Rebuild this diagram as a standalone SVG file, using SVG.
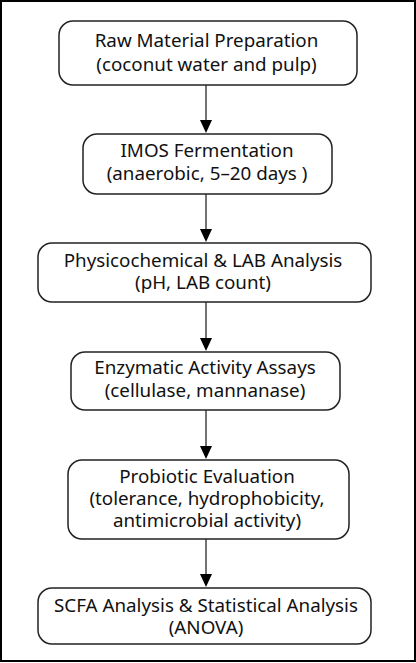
<svg xmlns="http://www.w3.org/2000/svg" width="416" height="663" viewBox="0 0 416 663">
<style>
.box{fill:#fff;stroke:#222;stroke-width:1.5}
.t{font-family:"Noto Sans","DejaVu Sans",sans-serif;font-size:18.8px;fill:#111;text-anchor:middle}
.c{stroke:#444;stroke-width:1.5;fill:none}
.h{fill:#000}
</style>
<rect x="0" y="0" width="416" height="663" fill="#fff"/>
<rect x="1" y="1" width="414" height="660" fill="none" stroke="#000" stroke-width="2"/>
<g id="connectors">
<line class="c" x1="206" y1="85" x2="206" y2="122"/>
<line class="c" x1="206" y1="194" x2="206" y2="231"/>
<line class="c" x1="206" y1="302" x2="206" y2="340"/>
<line class="c" x1="206" y1="410" x2="206" y2="448"/>
<line class="c" x1="206" y1="539" x2="206" y2="576"/>
<path class="h" d="M200,120 L212,120 L206,133 Z"/>
<path class="h" d="M200,229 L212,229 L206,242 Z"/>
<path class="h" d="M200,338 L212,338 L206,351 Z"/>
<path class="h" d="M200,446 L212,446 L206,459 Z"/>
<path class="h" d="M200,574 L212,574 L206,587 Z"/>
</g>
<g id="n1">
<rect class="box" x="59" y="21" width="298" height="64" rx="14"/>
<text class="t" x="206.5" y="47">Raw Material Preparation</text>
<text class="t" x="206.5" y="70.5">(coconut water and pulp)</text>
</g>
<g id="n2">
<rect class="box" x="83" y="134" width="249" height="60" rx="14"/>
<text class="t" x="207" y="157">IMOS Fermentation</text>
<text class="t" x="207" y="180">(anaerobic, 5–20 days )</text>
</g>
<g id="n3">
<rect class="box" x="38" y="243" width="333" height="59" rx="14"/>
<text class="t" x="203" y="267">Physicochemical &amp; LAB Analysis</text>
<text class="t" x="203" y="289">(pH, LAB count)</text>
</g>
<g id="n4">
<rect class="box" x="71" y="352" width="269" height="58" rx="14"/>
<text class="t" x="205" y="374">Enzymatic Activity Assays</text>
<text class="t" x="205" y="397">(cellulase, mannanase)</text>
</g>
<g id="n5">
<rect class="box" x="68" y="460" width="281" height="79" rx="14"/>
<text class="t" x="207" y="483">Probiotic Evaluation</text>
<text class="t" x="207" y="505">(tolerance, hydrophobicity,</text>
<text class="t" x="207" y="527">antimicrobial activity)</text>
</g>
<g id="n6">
<rect class="box" x="38" y="588" width="333" height="56" rx="14"/>
<text class="t" x="206" y="611.5">SCFA Analysis &amp; Statistical Analysis</text>
<text class="t" x="206" y="633.5">(ANOVA)</text>
</g>
</svg>
